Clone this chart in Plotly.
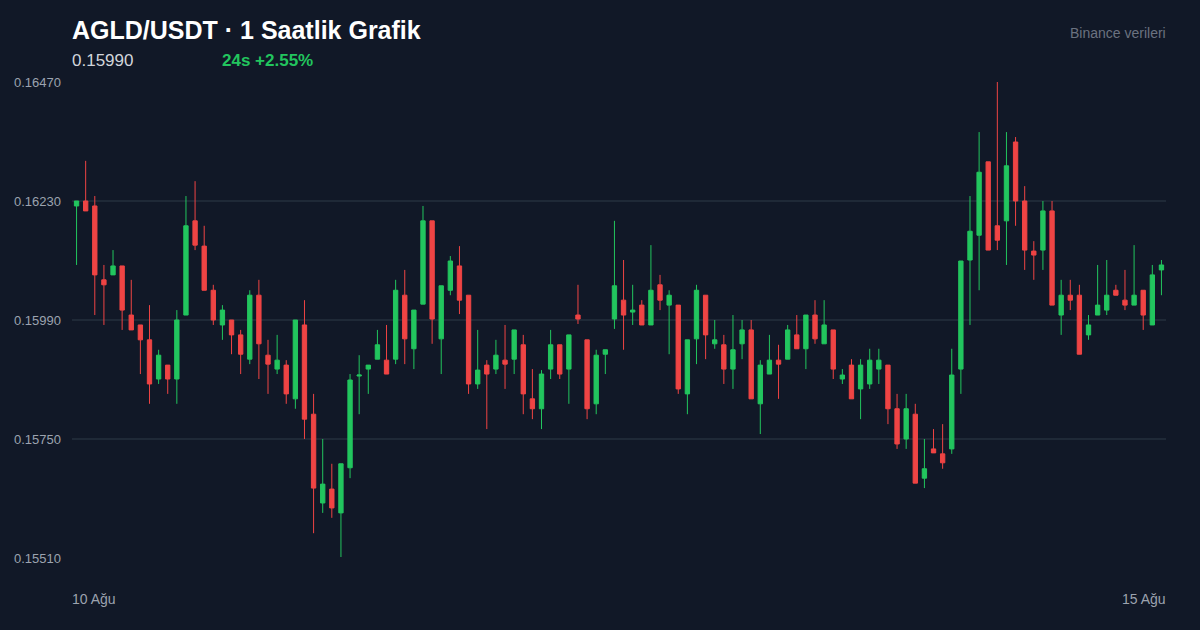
import pandas as pd
import plotly.graph_objects as go

# saatlik mumlar, 10 Ağu 00:00'dan başlayarak (120 adet)
times = pd.date_range("2024-08-10 00:00", periods=120, freq="h")

opens = [
    0.16220, 0.16230, 0.16220, 0.16071, 0.16081, 0.16099, 0.16000, 0.15980, 0.15950, 0.15871,
    0.15899, 0.15871, 0.16000, 0.16190, 0.16139, 0.16050, 0.15980, 0.15990, 0.15960, 0.15911,
    0.16040, 0.15919, 0.15891, 0.15899, 0.15831, 0.15980, 0.15800, 0.15621, 0.15649, 0.15601,
    0.15692, 0.15877, 0.15891, 0.15911, 0.15909, 0.15911, 0.16040, 0.15932, 0.16022, 0.16190,
    0.15952, 0.16050, 0.16099, 0.16040, 0.15861, 0.15899, 0.15891, 0.15909, 0.15911, 0.15940,
    0.15831, 0.15811, 0.15891, 0.15940, 0.15891, 0.16000, 0.15950, 0.15821, 0.15921, 0.15992,
    0.16030, 0.16006, 0.16020, 0.15980, 0.16061, 0.16020, 0.16020, 0.15841, 0.15952, 0.16040,
    0.15942, 0.15940, 0.15891, 0.15942, 0.15970, 0.15821, 0.15881, 0.15909, 0.15911, 0.15960,
    0.15932, 0.16000, 0.15942, 0.15970, 0.15871, 0.15899, 0.15851, 0.15861, 0.15891, 0.15899,
    0.15811, 0.15750, 0.15800, 0.15671, 0.15730, 0.15720, 0.15730, 0.15891, 0.16111, 0.16161,
    0.16309, 0.16180, 0.16190, 0.16349, 0.16230, 0.16129, 0.16131, 0.16210, 0.16000, 0.16040,
    0.16040, 0.15960, 0.16000, 0.16010, 0.16050, 0.16030, 0.16020, 0.16050, 0.15980, 0.16091,
]
highs = [
    0.16230, 0.16311, 0.16240, 0.16101, 0.16131, 0.16099, 0.16071, 0.15980, 0.16020, 0.15930,
    0.15899, 0.16010, 0.16240, 0.16270, 0.16180, 0.16061, 0.16020, 0.15990, 0.15970, 0.16050,
    0.16071, 0.15950, 0.15960, 0.15909, 0.15990, 0.16030, 0.15841, 0.15750, 0.15700, 0.15700,
    0.15881, 0.15919, 0.15899, 0.15970, 0.15980, 0.16071, 0.16091, 0.16010, 0.16220, 0.16190,
    0.16059, 0.16119, 0.16139, 0.16040, 0.15970, 0.15909, 0.15950, 0.15980, 0.15970, 0.15960,
    0.15891, 0.15889, 0.15970, 0.15940, 0.15960, 0.16061, 0.15950, 0.15930, 0.15930, 0.16190,
    0.16111, 0.16061, 0.16030, 0.16141, 0.16081, 0.16050, 0.16020, 0.15950, 0.16061, 0.16040,
    0.15990, 0.15960, 0.16000, 0.15990, 0.15990, 0.15909, 0.15960, 0.15940, 0.15980, 0.16000,
    0.16000, 0.16030, 0.16030, 0.15970, 0.15891, 0.15911, 0.15911, 0.15932, 0.15932, 0.15899,
    0.15841, 0.15841, 0.15821, 0.15750, 0.15770, 0.15780, 0.15932, 0.16109, 0.16240, 0.16369,
    0.16309, 0.16470, 0.16369, 0.16359, 0.16260, 0.16149, 0.16230, 0.16230, 0.16071, 0.16071,
    0.16061, 0.16000, 0.16101, 0.16111, 0.16061, 0.16091, 0.16141, 0.16050, 0.16101, 0.16111,
]
lows = [
    0.16101, 0.16210, 0.16000, 0.15980, 0.16081, 0.15970, 0.15970, 0.15881, 0.15821, 0.15861,
    0.15841, 0.15821, 0.16000, 0.16131, 0.16050, 0.15980, 0.15950, 0.15921, 0.15881, 0.15901,
    0.15871, 0.15841, 0.15881, 0.15821, 0.15811, 0.15750, 0.15560, 0.15601, 0.15591, 0.15512,
    0.15671, 0.15800, 0.15841, 0.15911, 0.15881, 0.15901, 0.15901, 0.15891, 0.16022, 0.15942,
    0.15881, 0.16040, 0.16002, 0.15841, 0.15851, 0.15770, 0.15881, 0.15851, 0.15881, 0.15800,
    0.15790, 0.15770, 0.15871, 0.15871, 0.15821, 0.15982, 0.15790, 0.15800, 0.15881, 0.15972,
    0.15930, 0.15980, 0.15980, 0.15980, 0.16010, 0.15921, 0.15841, 0.15800, 0.15901, 0.15911,
    0.15932, 0.15861, 0.15851, 0.15911, 0.15831, 0.15760, 0.15881, 0.15831, 0.15911, 0.15932,
    0.15891, 0.15942, 0.15942, 0.15871, 0.15861, 0.15831, 0.15790, 0.15851, 0.15861, 0.15780,
    0.15730, 0.15730, 0.15661, 0.15651, 0.15722, 0.15690, 0.15720, 0.15841, 0.15980, 0.16050,
    0.16131, 0.16131, 0.16101, 0.16180, 0.16091, 0.16071, 0.16091, 0.16020, 0.15960, 0.16010,
    0.15921, 0.15950, 0.16000, 0.16000, 0.16040, 0.16010, 0.16020, 0.15970, 0.15980, 0.16040,
]
closes = [
    0.16230, 0.16210, 0.16081, 0.16061, 0.16099, 0.16010, 0.15970, 0.15950, 0.15861, 0.15919,
    0.15871, 0.15990, 0.16180, 0.16141, 0.16050, 0.15990, 0.16010, 0.15960, 0.15921, 0.16040,
    0.15942, 0.15901, 0.15909, 0.15841, 0.15990, 0.15790, 0.15651, 0.15659, 0.15611, 0.15700,
    0.15869, 0.15879, 0.15899, 0.15940, 0.15881, 0.16050, 0.15952, 0.16010, 0.16190, 0.15992,
    0.16059, 0.16109, 0.16030, 0.15861, 0.15889, 0.15881, 0.15919, 0.15901, 0.15970, 0.15841,
    0.15811, 0.15881, 0.15940, 0.15881, 0.15960, 0.15992, 0.15811, 0.15919, 0.15930, 0.16059,
    0.16000, 0.16010, 0.15980, 0.16050, 0.16030, 0.16040, 0.15851, 0.15950, 0.16050, 0.15960,
    0.15950, 0.15891, 0.15930, 0.15970, 0.15831, 0.15899, 0.15909, 0.15901, 0.15970, 0.15932,
    0.16000, 0.15952, 0.15980, 0.15891, 0.15879, 0.15831, 0.15899, 0.15909, 0.15909, 0.15811,
    0.15740, 0.15811, 0.15661, 0.15690, 0.15722, 0.15702, 0.15879, 0.16109, 0.16169, 0.16288,
    0.16131, 0.16151, 0.16301, 0.16230, 0.16131, 0.16121, 0.16210, 0.16020, 0.16040, 0.16030,
    0.15921, 0.15980, 0.16020, 0.16040, 0.16040, 0.16020, 0.16040, 0.16000, 0.16081, 0.16101,
]

y_ticks = [0.15510, 0.15750, 0.15990, 0.16230, 0.16470]
last_price = "0.15990"
change_24h = "24s +2.55%"

UP = "#22c55e"
DOWN = "#ef4444"
BG = "#111827"
FONT = "Liberation Sans, Arial, sans-serif"

fig = go.Figure(go.Candlestick(
    x=times, open=opens, high=highs, low=lows, close=closes,
    increasing=dict(line=dict(color=UP, width=1), fillcolor=UP),
    decreasing=dict(line=dict(color=DOWN, width=1), fillcolor=DOWN),
    whiskerwidth=0,
    showlegend=False,
    hoverinfo="x+y",
))

half = pd.Timedelta(minutes=30)
fig.update_layout(
    width=1200, height=630,
    paper_bgcolor=BG, plot_bgcolor=BG,
    margin=dict(l=72, r=34, t=82, b=72),
    font=dict(family=FONT, color="#9ca3af"),
    boxgap=0.32,
    xaxis=dict(
        range=[times[0] - half, times[-1] + half],
        showgrid=False, zeroline=False, showticklabels=False,
        rangeslider=dict(visible=False),
    ),
    yaxis=dict(
        range=[y_ticks[0], y_ticks[-1]],
        tickvals=y_ticks, ticktext=[f"{v:.5f}" for v in y_ticks],
        tickfont=dict(size=13, color="#9ca3af"),
        gridcolor="#1f2937", gridwidth=1.5, zeroline=False,
        ticklabelstandoff=10,
    ),
)

ph = 630 - 82 - 72
fig.add_annotation(text="<b>AGLD/USDT · 1 Saatlik Grafik</b>", xref="paper", yref="paper",
                   x=0, y=1 + 52 / ph, xanchor="left", yanchor="middle", showarrow=False,
                   xshift=-2, font=dict(size=25, color="#ffffff"))
fig.add_annotation(text=last_price, xref="paper", yref="paper",
                   x=0, y=1 + 21 / ph, xanchor="left", yanchor="middle", showarrow=False,
                   xshift=-2, font=dict(size=17, color="#d1d5db"))
fig.add_annotation(text=f"<b>{change_24h}</b>", xref="paper", yref="paper",
                   x=150 / 1094, y=1 + 21 / ph, xanchor="left", yanchor="middle", showarrow=False,
                   xshift=-2, font=dict(size=17, color=UP))
fig.add_annotation(text="Binance verileri", xref="paper", yref="paper",
                   x=1, y=1 + 49 / ph, xanchor="right", yanchor="middle", showarrow=False,
                   xshift=2, font=dict(size=14, color="#6b7280"))
fig.add_annotation(text="10 Ağu", xref="paper", yref="paper",
                   x=0, y=-41 / ph, xanchor="left", yanchor="middle", showarrow=False,
                   xshift=-2, font=dict(size=14, color="#9ca3af"))
fig.add_annotation(text="15 Ağu", xref="paper", yref="paper",
                   x=1, y=-41 / ph, xanchor="right", yanchor="middle", showarrow=False,
                   xshift=2, font=dict(size=14, color="#9ca3af"))

fig.write_html("out.html", config={"displayModeBar": False},
               post_script="document.body.style.margin='0';")
